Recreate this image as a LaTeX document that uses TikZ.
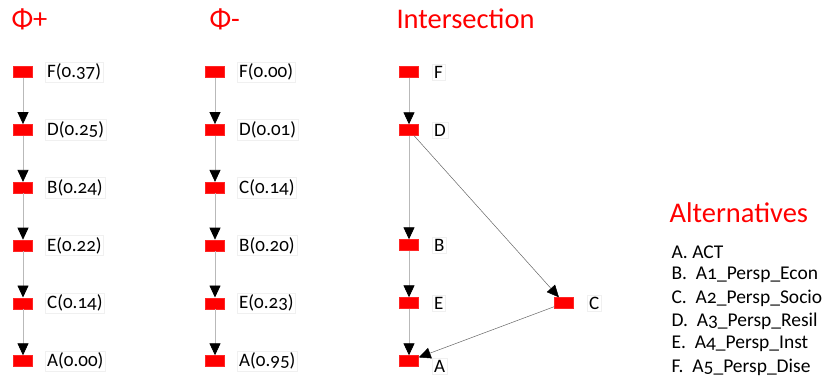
\documentclass[tikz,border=0pt]{standalone}
\usepackage{fontspec}
\setmainfont{Carlito}[Numbers=OldStyle]
\usetikzlibrary{arrows.meta}

\tikzset{
  alt/.style={fill=red, draw=red!85!white, minimum width=19pt, minimum height=11pt, inner sep=0pt},
  lbl/.style={draw=gray!12, anchor=west, inner sep=2pt, font=\fontsize{19}{19}\selectfont},
  flow/.style={-{Triangle[width=11pt,length=12pt,color=black]}, draw=gray!55, line width=0.8pt},
  cross/.style={-{Triangle[width=11pt,length=12pt,color=black]}, draw=gray!80!black, line width=0.5pt},
  ttl/.style={red, anchor=west, font=\fontsize{28.5}{28.5}\selectfont},
  item/.style={anchor=west, font=\fontsize{19.5}{19.5}\selectfont}
}

\begin{document}
\begin{tikzpicture}[x=1pt,y=-1pt]
\useasboundingbox (0,0) rectangle (826,378);

% Phi+
\node[ttl] (tplus) at (8,19) {Φ+};
\foreach \n/\v [count=\i] in {F/0.37,D/0.25,B/0.24,E/0.22,C/0.14,A/0.00}{
  \node[alt] (p\i) at (23,{72+57.8*(\i-1)}) {};
  \node[lbl] (pl\i) at (45,{72+57.8*(\i-1)}) {\n(\v)};
}
\foreach \i [evaluate=\i as \j using int(\i+1)] in {1,...,5}
  \draw[flow] (p\i) -- (p\j);

% Phi-
\node[ttl] (tminus) at (206,19) {Φ-};
\foreach \n/\v [count=\i] in {F/0.00,D/0.01,C/0.14,B/0.20,E/0.23,A/0.95}{
  \node[alt] (m\i) at (215,{72+57.8*(\i-1)}) {};
  \node[lbl] (ml\i) at (237,{72+57.8*(\i-1)}) {\n(\v)};
}
\foreach \i [evaluate=\i as \j using int(\i+1)] in {1,...,5}
  \draw[flow] (m\i) -- (m\j);

% Intersection
\node[ttl] (tinter) at (393,19) {Intersection};
\node[alt] (iF) at (409,72) {};  \node[lbl] at (432,72) {F};
\node[alt] (iD) at (409,130) {}; \node[lbl] at (432,130) {D};
\node[alt] (iB) at (409,245) {}; \node[lbl] at (432,245) {B};
\node[alt] (iE) at (409,303) {}; \node[lbl] at (432,303) {E};
\node[alt] (iA) at (409,361) {}; \node[lbl] at (432,366) {A};
\node[alt] (iC) at (564,303) {}; \node[lbl] at (587,303) {C};
\draw[flow] (iF) -- (iD);
\draw[flow] (iD) -- (iB);
\draw[flow] (iB) -- (iE);
\draw[flow] (iE) -- (iA);
\draw[cross] (iD) -- (iC);
\draw[cross] (iC) -- (iA);

% Legende
\node[ttl] (talt) at (666,213) {Alternatives};
\foreach \t [count=\i] in {A. ACT,B.\ \ A1\_Persp\_Econ,C.\ \ A2\_Persp\_Socio,D.\ \ A3\_Persp\_Resil,E.\ \ A4\_Persp\_Inst,F.\ \ A5\_Persp\_Dise}
  \node[item] (leg\i) at (668,{252+23*(\i-1)}) {\t};
\end{tikzpicture}
\end{document}
